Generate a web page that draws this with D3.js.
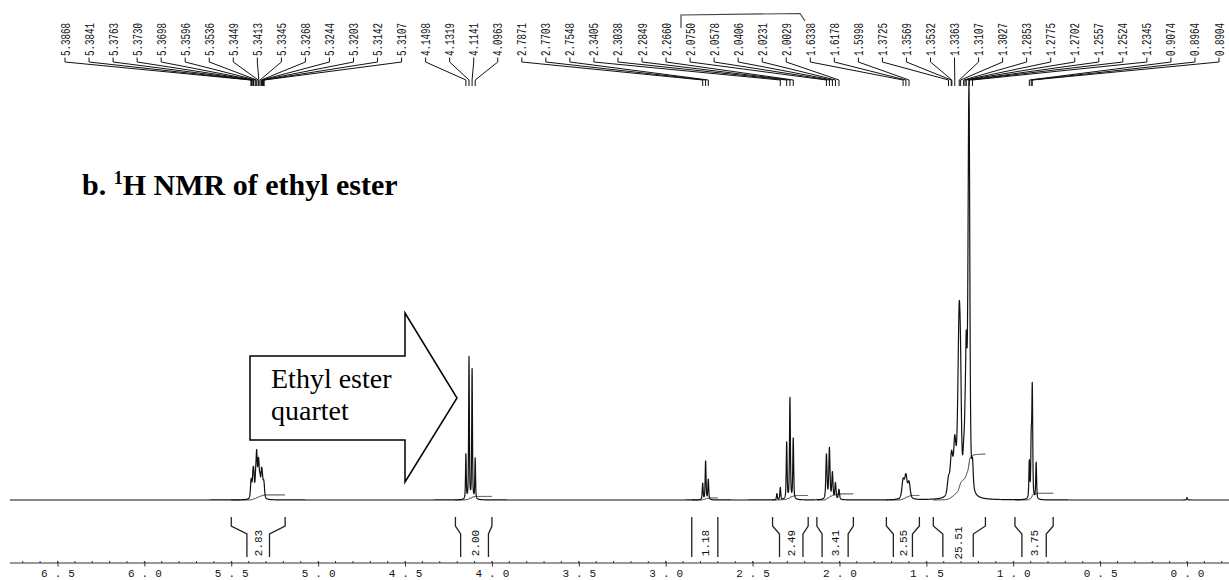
<!DOCTYPE html>
<html>
<head>
<meta charset="utf-8">
<title>1H NMR of ethyl ester</title>
<script src="https://d3js.org/d3.v7.min.js"></script>
<style>
  body { margin: 0; background: #fff; }
  svg { display: block; background: #fff; }
  .mono { font-family: "Liberation Mono", "DejaVu Sans Mono", monospace; fill: #111; }
  .serif { font-family: "Liberation Serif", "Times New Roman", serif; fill: #000; }
</style>
</head>
<body>
<svg id="nmr" width="1229" height="580"></svg>
<script>
  // peak lines: shift (ppm), intensity (% of tallest), half width (ppm)
  const peakPpm = [
    5.3868, 5.3841, 5.3763, 5.3730, 5.3698, 5.3596, 5.3536, 5.3449, 5.3413, 5.3345, 5.3268, 5.3244, 5.3203, 5.3142, 5.3107,
    4.1498, 4.1319, 4.1141, 4.0963,
    2.7871, 2.7703, 2.7548,
    2.3600, 2.3405, 2.3038, 2.2849, 2.2660,
    2.0750, 2.0578, 2.0406, 2.0231, 2.0029,
    1.6338, 1.6178, 1.5998,
    1.3725, 1.3569, 1.3532, 1.3363, 1.3107, 1.3027, 1.2853, 1.2775, 1.2702, 1.2557, 1.2524, 1.2345,
    0.9074, 0.8964, 0.8904, 0.8680,
    0.0000
  ];
  const peakHeight = [
    2.5, 2.5, 3, 3.5, 3.5, 4.5, 10, 5.5, 5, 4, 3.5, 3, 3, 2.5, 2,
    11, 35, 32, 10,
    4, 9.5, 5,
    1.5, 3, 14, 25, 15,
    11, 12.5, 6.5, 4, 2.5,
    4.5, 5.5, 4,
    4, 5, 5, 12, 45, 10, 6, 10, 30, 86, 20, 6,
    9, 14, 27, 9,
    0.6
  ];
  const peakWidth = [
    0.004, 0.004, 0.004, 0.004, 0.004, 0.004, 0.004, 0.004, 0.004, 0.004, 0.004, 0.004, 0.004, 0.004, 0.004,
    0.0025, 0.0025, 0.0025, 0.0025,
    0.003, 0.003, 0.003,
    0.003, 0.003, 0.003, 0.003, 0.003,
    0.004, 0.004, 0.004, 0.004, 0.004,
    0.008, 0.008, 0.008,
    0.008, 0.008, 0.008, 0.008, 0.009, 0.005, 0.005, 0.005, 0.005, 0.006, 0.004, 0.005,
    0.003, 0.003, 0.003, 0.003,
    0.003
  ];

  // peak pick labels printed across the top
  const peakLabels = [
    "5.3868", "5.3841", "5.3763", "5.3730", "5.3698", "5.3596", "5.3536", "5.3449", "5.3413", "5.3345",
    "5.3268", "5.3244", "5.3203", "5.3142", "5.3107",
    "4.1498", "4.1319", "4.1141", "4.0963",
    "2.7871", "2.7703", "2.7548", "2.3405", "2.3038", "2.2849", "2.2660",
    "2.0750", "2.0578", "2.0406", "2.0231", "2.0029",
    "1.6338", "1.6178", "1.5998",
    "1.3725", "1.3569", "1.3532", "1.3363", "1.3107", "1.3027", "1.2853", "1.2775", "1.2702", "1.2557", "1.2524", "1.2345",
    "0.9074", "0.8964", "0.8904"
  ];

  // integrals: value, integration limits and inner bracket limits (ppm)
  const integralValues = ["2.83", "2.00", "1.18", "2.49", "3.41", "2.55", "25.51", "3.75"];
  const integralFrom = [5.50, 4.21, 2.85, 2.385, 2.13, 1.73, 1.46, 0.99];
  const integralTo = [5.19, 4.00, 2.70, 2.18, 1.92, 1.54, 1.16, 0.77];
  const innerFrom = [5.41, 4.18, 2.85, 2.345, 2.10, 1.69, 1.405, 0.95];
  const innerTo = [5.28, 4.02, 2.70, 2.21, 1.95, 1.58, 1.23, 0.81];

  const majorTicks = [6.5, 6.0, 5.5, 5.0, 4.5, 4.0, 3.5, 3.0, 2.5, 2.0, 1.5, 1.0, 0.5, 0.0];
  const tickLabels = ["6.5", "6.0", "5.5", "5.0", "4.5", "4.0", "3.5", "3.0", "2.5", "2.0", "1.5", "1.0", "0.5", "0.0"];

  const svg = d3.select("#nmr");
  const x = d3.scaleLinear().domain([6.5, 0]).range([57.5, 1187]);
  const y = d3.scaleLinear().domain([0, 100]).range([500, 95]);
  const ppmStart = x.invert(10), ppmEnd = x.invert(1229);

  // pseudo-voigt line shape
  function shape(d, w) {
    const r = (d * d) / (w * w);
    return 0.5 / (1 + r) + 0.5 * Math.exp(-Math.LN2 * r);
  }

  const step = 0.0005;
  let grid = d3.range(ppmStart, ppmEnd, -step).concat(peakPpm);
  grid = Array.from(new Set(grid)).sort((a, b) => b - a);
  const spectrum = grid.map(p => {
    let s = 0;
    for (let i = 0; i < peakPpm.length; i++) {
      const d = p - peakPpm[i];
      if (Math.abs(d) < 0.4) s += peakHeight[i] * shape(d, peakWidth[i]);
    }
    return [p, s];
  });

  const line = d3.line().x(d => x(d[0])).y(d => y(d[1]));

  // integral traces
  const integralScale = 0.444;
  integralValues.forEach((v, i) => {
    const pts = spectrum.filter(d => d[0] <= integralFrom[i] && d[0] >= integralTo[i]);
    const total = d3.sum(pts, d => d[1]) || 1;
    let acc = 0;
    const curve = pts.map(d => { acc += d[1]; return [d[0], acc / total * (+v) * integralScale]; });
    svg.append("path")
      .attr("d", line(curve))
      .attr("fill", "none")
      .attr("stroke", "#222")
      .attr("stroke-width", 1);
  });

  svg.append("path")
    .attr("d", line(spectrum))
    .attr("fill", "none")
    .attr("stroke", "#111")
    .attr("stroke-width", 1.2)
    .attr("stroke-linejoin", "round");

  // peak labels and their leader lines
  const labelX = d3.scalePoint().domain(d3.range(peakLabels.length)).range([65, 1219]);
  const labels = svg.append("g");
  peakLabels.forEach((t, i) => {
    const xl = labelX(i), xp = x(+t);
    labels.append("text")
      .attr("class", "mono")
      .attr("transform", `translate(${xl + 4.5},56) rotate(-90)`)
      .attr("font-size", 13)
      .attr("textLength", 33)
      .attr("lengthAdjust", "spacingAndGlyphs")
      .text(t);
    labels.append("path")
      .attr("d", `M${xl},57.5V62L${xp},80V86`)
      .attr("fill", "none")
      .attr("stroke", "#111")
      .attr("stroke-width", 1);
  });

  // stray pen mark above the labels
  svg.append("path")
    .attr("d", "M681,28V15L800,13.5L805,21")
    .attr("fill", "none")
    .attr("stroke", "#444")
    .attr("stroke-width", 1.2);

  // integral brackets
  const brackets = svg.append("g");
  integralValues.forEach((v, i) => {
    const o1 = x(integralFrom[i]), o2 = x(integralTo[i]);
    const i1 = x(innerFrom[i]), i2 = x(innerTo[i]);
    const flare = Math.abs(o1 - i1) > 1;
    [[o1, i1], [o2, i2]].forEach(([o, n]) => {
      brackets.append("path")
        .attr("d", flare ? `M${o},517V526L${n},534V557` : `M${o},517V557`)
        .attr("fill", "none")
        .attr("stroke", "#222")
        .attr("stroke-width", 1.3);
    });
    brackets.append("text")
      .attr("class", "mono")
      .attr("transform", `translate(${(i1 + i2) / 2 + 4},543) rotate(-90)`)
      .attr("font-size", 11)
      .attr("text-anchor", "middle")
      .text(v);
  });

  // axis
  const axisY = 563;
  svg.append("line")
    .attr("x1", 10).attr("x2", 1229)
    .attr("y1", axisY).attr("y2", axisY)
    .attr("stroke", "#333").attr("stroke-width", 1);

  const minor = d3.range(-2, 68).map(i => i / 10);
  svg.append("g").selectAll("line").data(minor).join("line")
    .attr("x1", d => x(d)).attr("x2", d => x(d))
    .attr("y1", axisY - 2).attr("y2", axisY)
    .attr("stroke", "#333");

  const axis = d3.axisBottom(x)
    .tickValues(majorTicks)
    .tickSizeInner(4)
    .tickSizeOuter(0)
    .tickFormat((d, i) => tickLabels[i]);
  const ax = svg.append("g").attr("transform", `translate(0,${axisY - 1.5})`).call(axis);
  ax.select(".domain").remove();
  ax.selectAll(".tick line").attr("stroke", "#333").attr("y2", 5);
  ax.selectAll(".tick text")
    .attr("class", "mono")
    .attr("y", 15)
    .attr("dy", 0)
    .attr("dx", 3.5)
    .attr("font-size", 11)
    .attr("letter-spacing", "7px")
    .attr("fill", "#333");

  // title
  const title = svg.append("text")
    .attr("class", "serif")
    .attr("x", 82).attr("y", 195)
    .attr("font-size", 30)
    .attr("font-weight", "bold");
  title.append("tspan").text("b. ");
  title.append("tspan").attr("font-size", 18).attr("dy", -11).text("1");
  title.append("tspan").attr("dy", 11).text("H NMR of ethyl ester");

  // block arrow annotation
  svg.append("path")
    .attr("d", "M250,356H405V313L457,398L405,482V440H250Z")
    .attr("fill", "#fff")
    .attr("stroke", "#000")
    .attr("stroke-width", 1.5);
  svg.append("text").attr("class", "serif").attr("x", 271).attr("y", 388).attr("font-size", 28).text("Ethyl ester");
  svg.append("text").attr("class", "serif").attr("x", 271).attr("y", 420).attr("font-size", 28).text("quartet");
</script>
</body>
</html>
